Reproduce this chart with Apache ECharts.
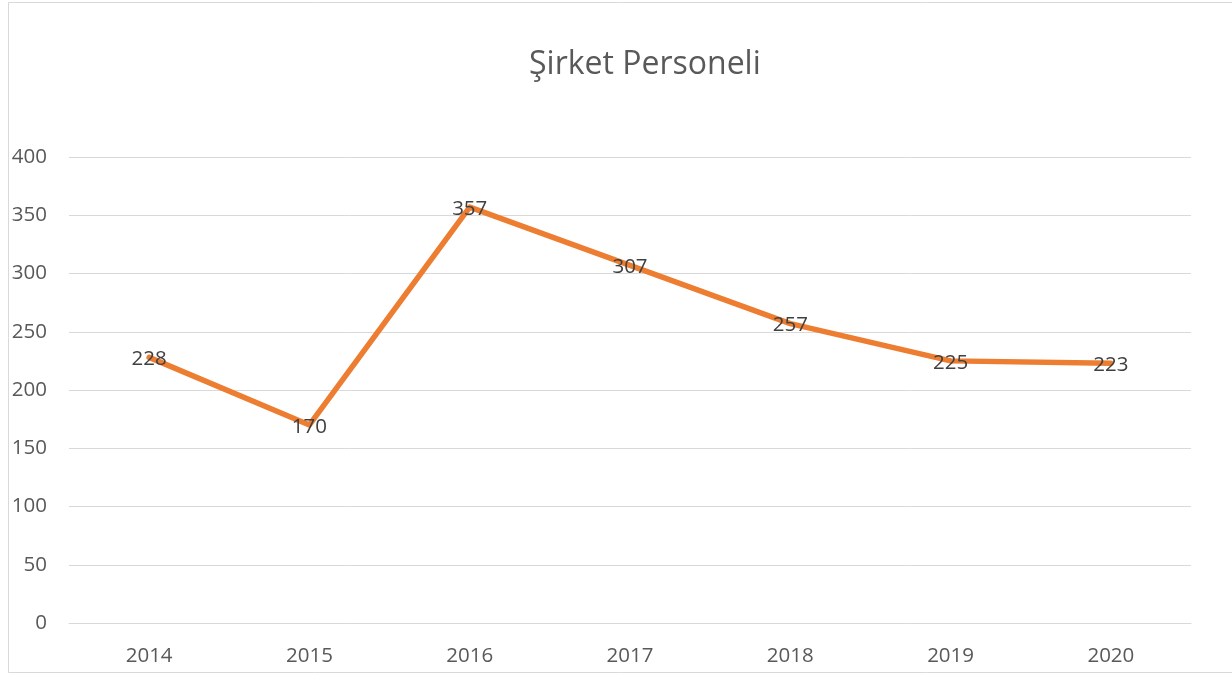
<!DOCTYPE html>
<html>
<head>
<meta charset="utf-8">
<script src="https://cdn.jsdelivr.net/npm/echarts@6/dist/echarts.min.js"></script>
<style>
html,body{margin:0;padding:0;background:#fff;}
#chart{width:1232px;height:673px;}
</style>
</head>
<body>
<div id="chart"></div>
<script>
const titleText = "Şirket Personeli";
const categories = ["2014","2015","2016","2017","2018","2019","2020"];
const values = [228,170,357,307,257,225,223];
const yMin = 0, yMax = 400, yInterval = 50;

const chart = echarts.init(document.getElementById('chart'));
const font = "'Open Sans', 'Noto Sans', sans-serif";
chart.setOption({
  animation: false,
  backgroundColor: '#fff',
  textStyle: {fontFamily: font},
  title: {
    text: titleText, left: 524, top: 44,
    textStyle: {fontSize: 32, fontWeight: 'normal', color: '#595959', fontFamily: font}
  },
  graphic: [{
    type: 'rect', left: 6, top: 0, silent: true,
    shape: {width: 1224, height: 670},
    style: {fill: 'none', stroke: '#d9d9d9', lineWidth: 1}
  }],
  grid: {left: 69, right: 41, top: 157, bottom: 50, containLabel: false},
  xAxis: {
    type: 'category', data: categories, boundaryGap: true,
    axisLine: {lineStyle: {color: '#d9d9d9', width: 1}},
    axisTick: {show: false},
    axisLabel: {color: '#595959', fontSize: 20.5, margin: 23, fontFamily: font}
  },
  yAxis: {
    type: 'value', min: yMin, max: yMax, interval: yInterval,
    axisLine: {show: false}, axisTick: {show: false},
    axisLabel: {color: '#595959', fontSize: 20.5, margin: 22, fontFamily: font},
    splitLine: {lineStyle: {color: '#d9d9d9', width: 1}}
  },
  series: [{
    type: 'line', data: values, symbol: 'circle', symbolSize: 1, showSymbol: true,
    lineStyle: {color: '#ED7D31', width: 5.5, cap: 'round', join: 'round'},
    itemStyle: {color: '#ED7D31'},
    label: {show: true, position: 'inside', offset: [0, 2], color: '#404040', fontSize: 20.5, fontFamily: font}
  }]
});
</script>
</body>
</html>
